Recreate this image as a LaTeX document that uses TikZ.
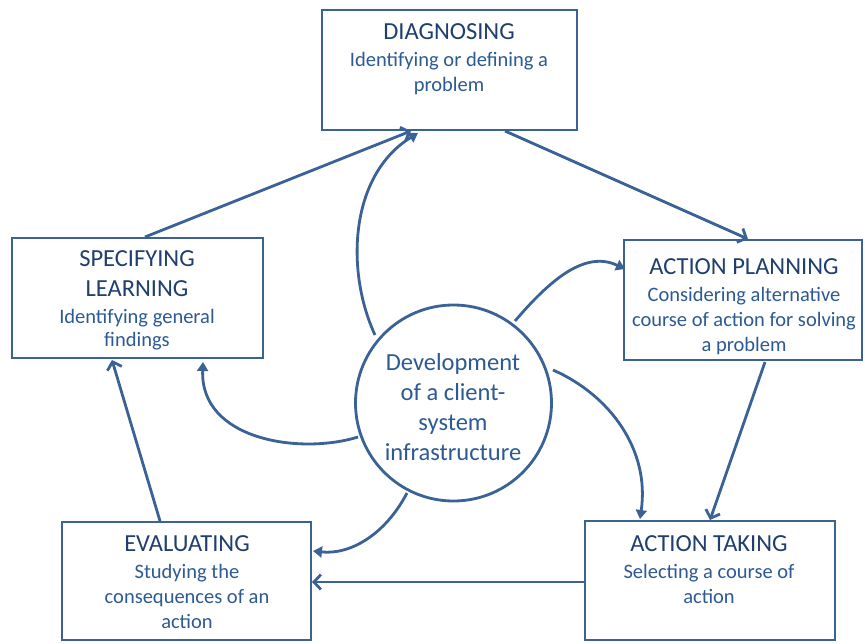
\documentclass[tikz,border=0pt]{standalone}
\usepackage{fontspec}
\setmainfont{Carlito}
\usetikzlibrary{arrows.meta}
\definecolor{edge}{HTML}{3A6296}
\definecolor{titletxt}{HTML}{1F3F6E}
\definecolor{subtxt}{HTML}{2D5A94}
\newcommand{\ttl}[1]{{\color{titletxt}\fontsize{24.5}{25}\selectfont #1}}
\begin{document}
\begin{tikzpicture}[x=1pt,y=-1pt,
  stagebox/.style={draw=edge,line width=2.8pt,fill=white,rectangle,inner sep=0pt},
  stagetext/.style={align=center,inner sep=0pt,anchor=base,text=subtxt,
    font=\fontsize{20.5}{25}\selectfont},
  hub/.style={draw=edge,line width=2.8pt,circle,minimum size=196pt,inner sep=0pt,fill=white},
  flow/.style={draw=edge,line width=2.8pt,-{Straight Barb[length=7pt,width=15pt,line width=2.8pt]}},
  feed/.style={draw=edge,line width=2.8pt,-{Triangle[length=9pt,width=11pt]}}]
\useasboundingbox (0,0) rectangle (865,643);
\clip (0,0) rectangle (865,643);
% stage boxes
\node[stagebox,minimum width=255pt,minimum height=120pt] (diag) at (449.5,70) {};
\node[stagebox,minimum width=251pt,minimum height=120pt] (spec) at (137.5,298) {};
\node[stagebox,minimum width=238pt,minimum height=120pt] (plan) at (743,300) {};
\node[stagebox,minimum width=249pt,minimum height=118pt] (eval) at (186.5,581) {};
\node[stagebox,minimum width=250pt,minimum height=119pt] (take) at (710,580.5) {};
% central circle
\node[hub] (hub) at (453.5,403) {};
% box texts (anchored at the last baseline)
\node[stagetext] (diagt) at (449,91) {\ttl{DIAGNOSING}\\[2pt] Identifying or defining a\\ problem};
\node[stagetext] (spect) at (137,346) {\ttl{SPECIFYING}\\[5pt] \ttl{LEARNING}\\[2pt] Identifying general\\[-2pt] findings};
\node[stagetext] (plant) at (744,351) {\ttl{ACTION PLANNING}\\[2pt] Considering alternative\\ course of action for solving\\ a problem};
\node[stagetext] (evalt) at (187,628) {\ttl{EVALUATING}\\[2pt] Studying the\\ consequences of an\\ action};
\node[stagetext] (taket) at (709,603) {\ttl{ACTION TAKING}\\[2pt] Selecting a course of\\ action};
\node[stagetext,font=\fontsize{24.5}{30}\selectfont] (hubt) at (453,460)
  {Development\\ of a client-\\ system\\ infrastructure};
% cycle connectors
\coordinate (s1) at (145,237);
\coordinate (d1) at (411,131);
\coordinate (d2) at (505,131);
\coordinate (p1) at (748,239);
\coordinate (p2) at (765,362);
\coordinate (t1) at (710,520);
\coordinate (t2) at (584,582);
\coordinate (e1) at (312,582);
\coordinate (e2) at (160,521);
\coordinate (s2) at (112,360);
\draw[flow] (s1) -- (d1);
\draw[flow] (d2) -- (p1);
\draw[flow] (p2) -- (t1);
\draw[flow] (t2) -- (e1);
\draw[flow] (e2) -- (s2);
% links from the circle
\coordinate (h1) at (375,335);
\coordinate (h2) at (515,321);
\coordinate (h3) at (553,370);
\coordinate (h4) at (407,493);
\coordinate (h5) at (358,437);
\coordinate (c1) at (418,133);
\coordinate (c2) at (625,269);
\coordinate (c3) at (640,519);
\coordinate (c4) at (313,551);
\coordinate (c5) at (203,362);
\draw[feed] (h1) .. controls (345,270) and (350,175) .. (c1);
\draw[feed] (h2) .. controls (550,280) and (585,250) .. (c2);
\draw[feed] (h3) .. controls (610,395) and (650,450) .. (c3);
\draw[feed] (h4) .. controls (385,535) and (350,555) .. (c4);
\draw[feed] (h5) .. controls (300,455) and (200,440) .. (c5);
\end{tikzpicture}
\end{document}
